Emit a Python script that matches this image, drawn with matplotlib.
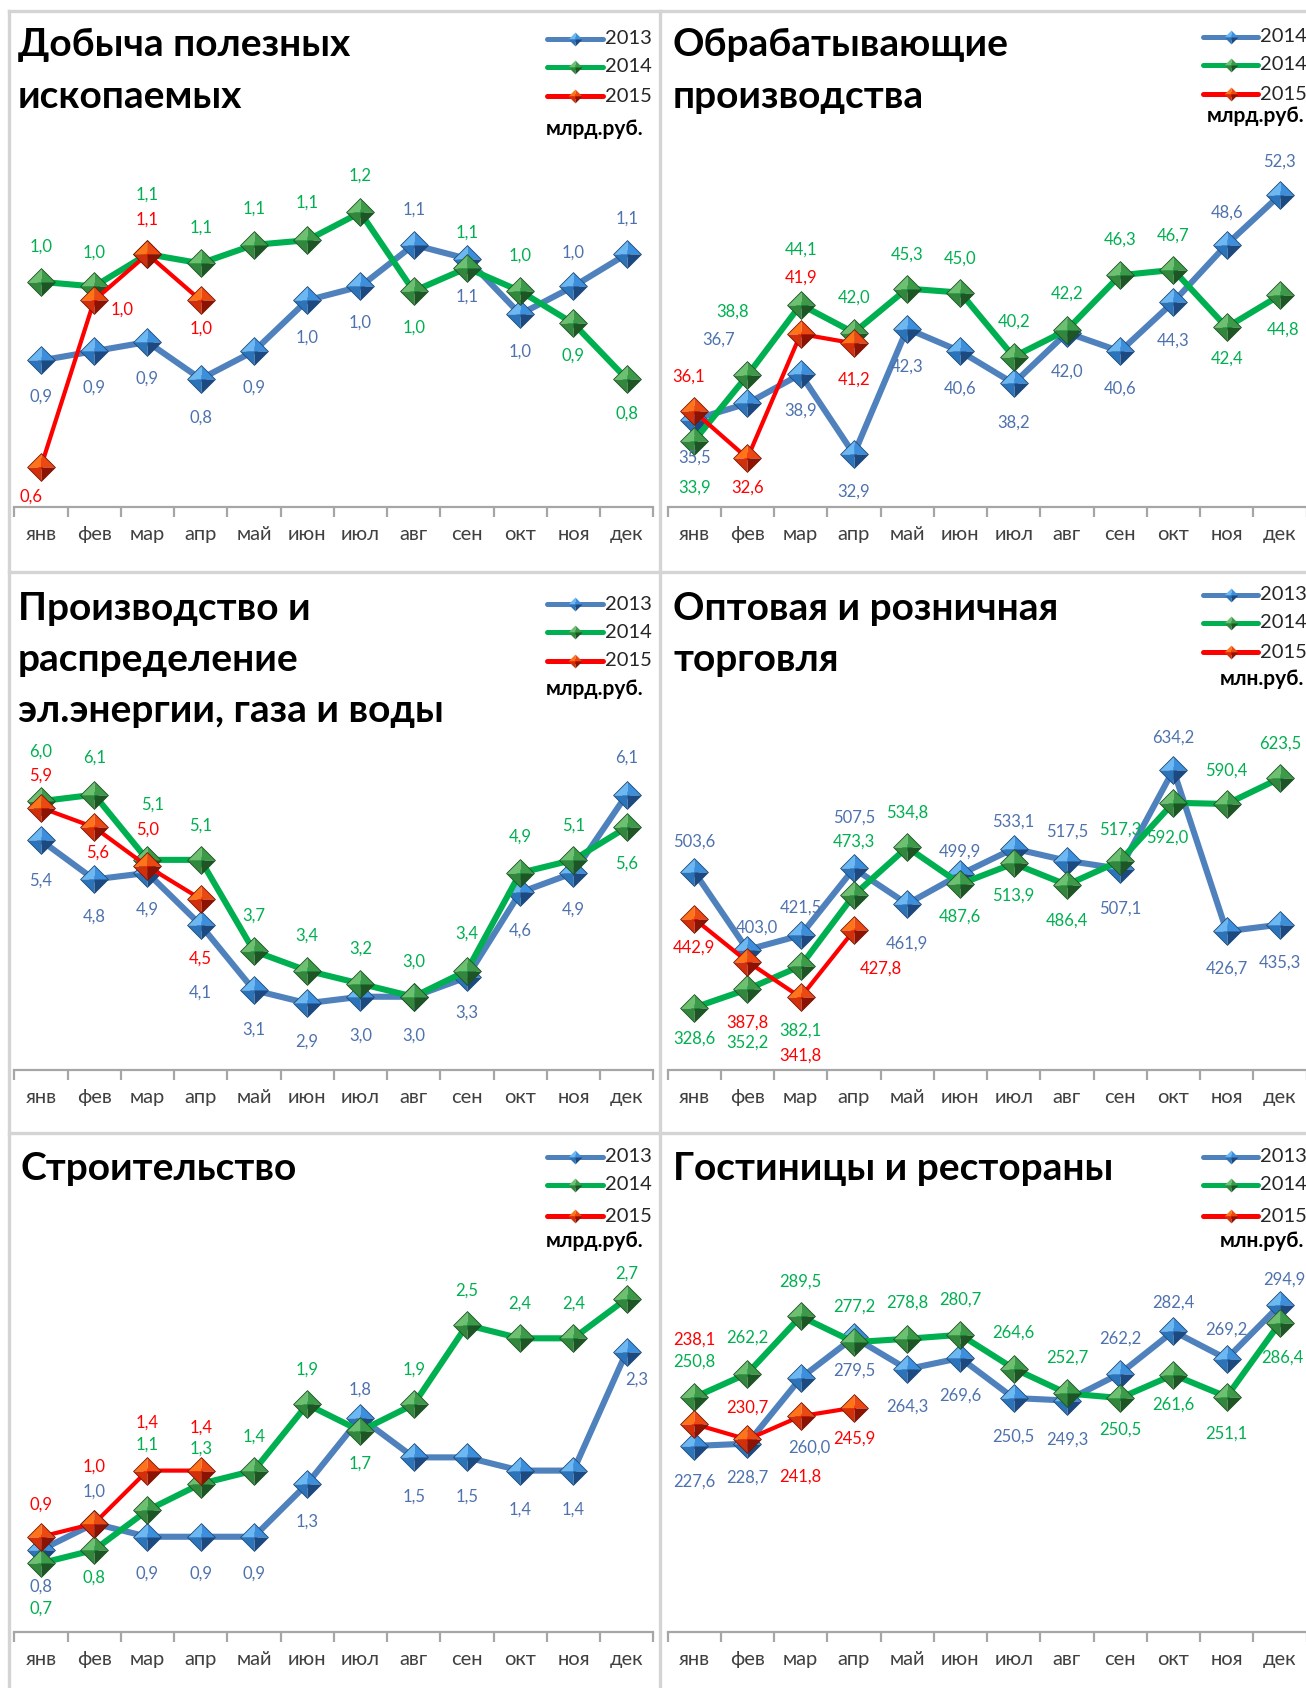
import numpy as np
import matplotlib
matplotlib.use("Agg")
import matplotlib.pyplot as plt
from matplotlib.lines import Line2D
from matplotlib.path import Path

plt.rcParams['font.family'] = ['Lato', 'Open Sans', 'DejaVu Sans']

W, H = 1306, 1688
S = 1306 / 1213

# --- ДАННЫЕ ---
MONTHS = ['янв', 'фев', 'мар', 'апр', 'май', 'июн', 'июл', 'авг', 'сен', 'окт', 'ноя', 'дек']

MINING_2013 = [0.86, 0.88, 0.90, 0.82, 0.88, 0.99, 1.02, 1.11, 1.08, 0.96, 1.02, 1.09]
MINING_2014 = [1.03, 1.02, 1.09, 1.07, 1.11, 1.12, 1.18, 1.01, 1.06, 1.01, 0.94, 0.82]
MINING_2015 = [0.63, 0.99, 1.09, 0.99]

MANUF_A = [35.5, 36.7, 38.9, 32.9, 42.3, 40.6, 38.2, 42.0, 40.6, 44.3, 48.6, 52.3]
MANUF_B = [33.9, 38.8, 44.1, 42.0, 45.3, 45.0, 40.2, 42.2, 46.3, 46.7, 42.4, 44.8]
MANUF_2015 = [36.1, 32.6, 41.9, 41.2]

ENERGY_2013 = [5.4, 4.8, 4.9, 4.1, 3.1, 2.9, 3.0, 3.0, 3.3, 4.6, 4.9, 6.1]
ENERGY_2014 = [6.0, 6.1, 5.1, 5.1, 3.7, 3.4, 3.2, 3.0, 3.4, 4.9, 5.1, 5.6]
ENERGY_2015 = [5.9, 5.6, 5.0, 4.5]

TRADE_2013 = [503.6, 403.0, 421.5, 507.5, 461.9, 499.9, 533.1, 517.5, 507.1, 634.2, 426.7, 435.3]
TRADE_2014 = [328.6, 352.2, 382.1, 473.3, 534.8, 487.6, 513.9, 486.4, 517.3, 592.0, 590.4, 623.5]
TRADE_2015 = [442.9, 387.8, 341.8, 427.8]

BUILD_2013 = [0.8, 1.0, 0.9, 0.9, 0.9, 1.3, 1.8, 1.5, 1.5, 1.4, 1.4, 2.3]
BUILD_2014 = [0.7, 0.8, 1.1, 1.3, 1.4, 1.9, 1.7, 1.9, 2.5, 2.4, 2.4, 2.7]
BUILD_2015 = [0.9, 1.0, 1.4, 1.4]

HOTEL_2013 = [227.6, 228.7, 260.0, 279.5, 264.3, 269.6, 250.5, 249.3, 262.2, 282.4, 269.2, 294.9]
HOTEL_2014 = [250.8, 262.2, 289.5, 277.2, 278.8, 280.7, 264.6, 252.7, 250.5, 261.6, 251.1, 286.4]
HOTEL_2015 = [238.1, 230.7, 241.8, 245.9]

# --- ПОДПИСИ: смещения (пиксели уменьшенной картинки, + вниз) ---
DY = {
    0: [[34, 34, 34, 36, 34, 35, 34, -33, 35, 35, -31, -33],
        [-33, -31, -55, -33, -34, -35, -34, 34, -33, -33, 30, 32],
        [28, 9, -32, 26]],
    1: [[35, -59, 34, 35, 35, 35, 36, 36, 35, 36, -30, -31],
        [43, -59, -51, -33, -32, -32, -33, -34, -33, -32, 29, 32],
        [-32, 27, -52, 34]],
    2: [[37, 35, 34, 63, 37, 36, 36, 36, 33, 35, 34, -34],
        [-46, -34, -51, -32, -33, -33, -33, -33, -34, -34, -32, 34],
        [-30, 24, -34, 55]],
    3: [[-28, -21, -26, -47, 37, -21, -25, -27, 37, -30, 35, 35],
        [29, 50, 60, -50, -32, 30, 30, 33, -29, 32, -31, -32],
        [27, 57, 54, 35]],
    4: [[34, -30, 34, 34, 34, 35, -26, 36, 36, 36, 36, 26],
        [42, 26, -61, -33, -32, -32, 30, -32, -32, -32, -32, -23],
        [-30, -53, -45, -40]],
    5: [[33, 32, 65, 31, 35, 35, 36, 36, -32, -27, -27, -24],
        [-33, -33, -32, -33, -34, -33, -33, -33, 29, 28, 34, 32],
        [-78, -30, 56, 29]],
}
DX = {
    (0, 2, 0): -9, (0, 2, 1): 26,
    (1, 0, 1): -27, (1, 1, 1): -14, (1, 1, 11): 3, (1, 2, 0): -5,
    (2, 1, 2): 5, (2, 2, 1): 3,
    (3, 0, 1): 9, (3, 1, 9): -6, (3, 2, 3): 25,
    (4, 0, 11): 9,
    (5, 0, 2): 8, (5, 0, 11): 4, (5, 1, 11): 2,
}

PANELS = [
    (['Добыча полезных', 'ископаемых'], 'млрд.руб.', ['2013', '2014', '2015'],
     [MINING_2013, MINING_2014, MINING_2015], (0.543, 1.313)),
    (['Обрабатывающие', 'производства'], 'млрд.руб.', ['2014', '2014', '2015'],
     [MANUF_A, MANUF_B, MANUF_2015], (28.95, 55.6)),
    (['Производство и', 'распределение', 'эл.энергии, газа и воды'], 'млрд.руб.', ['2013', '2014', '2015'],
     [ENERGY_2013, ENERGY_2014, ENERGY_2015], (1.876, 7.338)),
    (['Оптовая и розничная', 'торговля'], 'млн.руб.', ['2013', '2014', '2015'],
     [TRADE_2013, TRADE_2014, TRADE_2015], (248.4, 706.1)),
    (['Строительство'], 'млрд.руб.', ['2013', '2014', '2015'],
     [BUILD_2013, BUILD_2014, BUILD_2015], (0.180, 2.871)),
    (['Гостиницы и рестораны'], 'млн.руб.', ['2013', '2014', '2015'],
     [HOTEL_2013, HOTEL_2014, HOTEL_2015], (138.7, 308.8)),
]

# --- ОФОРМЛЕНИЕ ---
LINE_COLORS = ['#4f81bd', '#00b050', '#ff0000']
LINE_WIDTHS = [4.4, 4.4, 3.0]
LABEL_COLORS = ['#4e72ae', '#00b050', '#ff0000']
FACET_COLORS = [
    ['#6cb8f2', '#3b8fdc', '#2c74ba', '#1c4a80'],
    ['#6cc070', '#3d9a48', '#32873c', '#1d5524'],
    ['#ff7418', '#ec4812', '#d2300a', '#8c1204'],
]
EDGE_COLORS = ['#1d4a7a', '#1c5222', '#7a1404']

FACETS = [
    Path([(0, 0), (-1, 0), (0, 1), (0, 0)]),
    Path([(0, 0), (0, 1), (1, 0), (0, 0)]),
    Path([(0, 0), (-1, 0), (0, -1), (0, 0)]),
    Path([(0, 0), (0, -1), (1, 0), (0, 0)]),
]
DIAMOND = Path([(0, 1), (1, 0), (0, -1), (-1, 0), (0, 1)])

AXIS_Y = [507, 507, 1070, 1070, 1632, 1632]          # полные пиксели
AXIS_X0 = [14.3, 667.5] * 3
AXIS_W = 639
AXIS_H = 356
TITLE_X = [18, 673, 18, 673, 20, 673]
TITLE_Y = [[45, 97], [45, 97], [608, 659, 711], [608, 659], [1168], [1168]]
LEG_Y = [[39, 67, 96, 129], [37, 65, 94, 116], [604, 632, 661, 689],
         [595, 623, 652, 679], [1157, 1185, 1216, 1241], [1157, 1185, 1216, 1241]]
LEG_X = [(547, 603, 605, 643), (1203, 1258, 1260, 1304)] * 3

BORDER = '#d4d4d4'
AXIS_COL = '#a6a6a6'


def fx(px):
    return px / W


def fy(py):
    return 1 - py / H


def draw_markers(artist_host, x, y, i, ms, **kw):
    for path, fc in zip(FACETS, FACET_COLORS[i]):
        artist_host(x, y, ls='none', marker=path, ms=ms, mfc=fc, mec='none', **kw)
    artist_host(x, y, ls='none', marker=DIAMOND, ms=ms, mfc='none',
                mec=EDGE_COLORS[i], mew=0.6, **kw)


def fmt(v):
    return f"{v:.1f}".replace('.', ',')


fig = plt.figure(figsize=(W / 100, H / 100), dpi=100)

# рамки панелей
for seg in [((8.5, 8.5), (11, H)), ((660, 660), (11, H)), ((8.5, W), (11, 11)),
            ((8.5, W), (572, 572)), ((8.5, W), (1133, 1133))]:
    fig.add_artist(Line2D([fx(v) for v in seg[0]], [fy(v) for v in seg[1]],
                          color=BORDER, lw=2.4, transform=fig.transFigure))

for p, (title, unit, years, series, ylim) in enumerate(PANELS):
    ax = fig.add_axes([fx(AXIS_X0[p]), fy(AXIS_Y[p]), AXIS_W / W, AXIS_H / H])
    ax.set_xlim(-0.5, 11.5)
    ax.set_ylim(*ylim)
    for s in ['top', 'left', 'right']:
        ax.spines[s].set_visible(False)
    ax.spines['bottom'].set_color(AXIS_COL)
    ax.spines['bottom'].set_linewidth(1.6)
    ax.set_yticks([])
    ax.set_xticks(range(12))
    ax.set_xticklabels(MONTHS, fontsize=14.5, color='#404040')
    ax.set_xticks(np.arange(-0.5, 12, 1), minor=True)
    ax.tick_params(axis='x', which='major', length=0, pad=13.5)
    ax.tick_params(axis='x', which='minor', length=7, width=1.6, color=AXIS_COL)
    ax.patch.set_alpha(0)

    for i, vals in enumerate(series):
        x = np.arange(len(vals))
        ax.plot(x, vals, color=LINE_COLORS[i], lw=LINE_WIDTHS[i], zorder=2 + 2 * i,
                solid_joinstyle='round', clip_on=False)
        draw_markers(ax.plot, x, vals, i, 20, zorder=3 + 2 * i, clip_on=False)
        for k, v in enumerate(vals):
            ax.annotate(fmt(v), (k, v),
                        xytext=(DX.get((p, i, k), 0) * S, -DY[p][i][k] * S),
                        textcoords='offset pixels', ha='center', va='center',
                        fontsize=12, color=LABEL_COLORS[i], zorder=20,
                        annotation_clip=False)

    # заголовок
    for line, ty in zip(title, TITLE_Y[p]):
        fig.text(fx(TITLE_X[p]), fy(ty), line, fontsize=28, weight='bold',
                 ha='left', va='center', color='black')

    # легенда
    lx0, lx1, tx, ux = LEG_X[p]
    for i, yr in enumerate(years):
        ly = fy(LEG_Y[p][i])
        fig.add_artist(Line2D([fx(lx0), fx(lx1)], [ly, ly], color=LINE_COLORS[i],
                              lw=3.6, solid_capstyle='round', transform=fig.transFigure))
        for path, fc in zip(FACETS, FACET_COLORS[i]):
            fig.add_artist(Line2D([fx((lx0 + lx1) / 2)], [ly], ls='none', marker=path, ms=10,
                                  mfc=fc, mec='none', transform=fig.transFigure))
        fig.text(fx(tx), ly, yr, fontsize=14.5, ha='left', va='center', color='#262626')
    fig.text(fx(ux), fy(LEG_Y[p][3]), unit, fontsize=15, weight='bold',
             ha='right', va='center', color='black')

fig.savefig('out.png', dpi=100)
